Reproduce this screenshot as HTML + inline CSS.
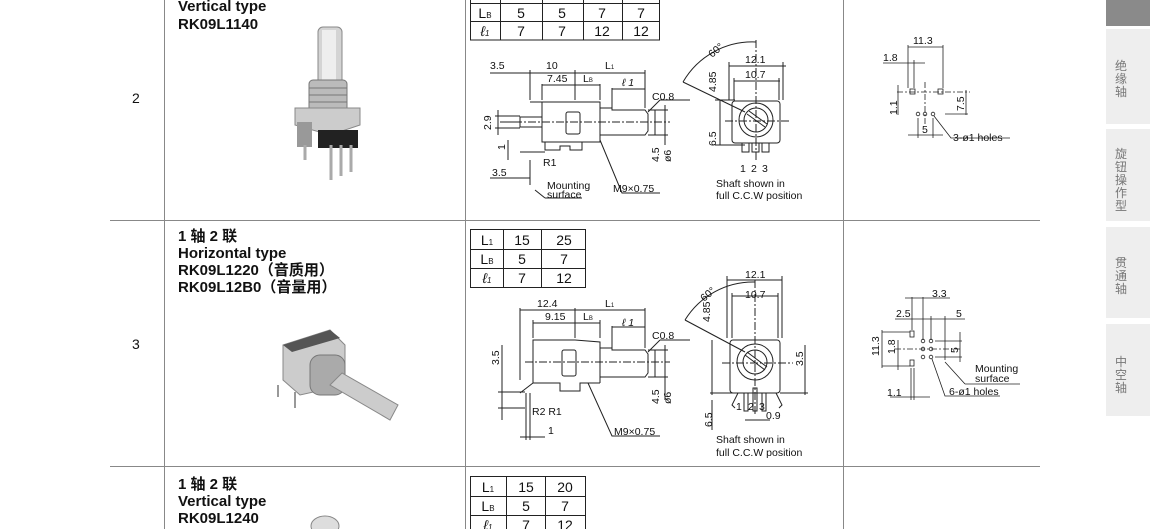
<!DOCTYPE html>
<html><head><meta charset="utf-8"><style>
html,body{margin:0;padding:0;background:#fff;}
body{width:1150px;height:529px;overflow:hidden;position:relative;font-family:"Liberation Sans","Noto Sans CJK SC",sans-serif;}
svg{position:absolute;left:0;top:0;}
.b{font-weight:bold;font-size:15px;fill:#111;}
.d{font-size:10.5px;fill:#111;}
.t{font-size:14px;fill:#111;}
.s{font-size:12px;fill:#777;}
</style></head><body>
<svg width="1150" height="529" viewBox="0 0 1150 529" font-family="Liberation Sans, Noto Sans CJK SC, sans-serif">
<!-- sidebar -->
<rect x="1106" y="0" width="44" height="26" fill="#8a8a8a"/>
<rect x="1106" y="29" width="44" height="95" fill="#eeeeee"/>
<rect x="1106" y="129" width="44" height="92" fill="#eeeeee"/>
<rect x="1106" y="227" width="44" height="91" fill="#eeeeee"/>
<rect x="1106" y="324" width="44" height="92" fill="#eeeeee"/>
<g class="s" text-anchor="middle">
<text x="1121" y="70">绝</text><text x="1121" y="83">缘</text><text x="1121" y="96">轴</text>
<text x="1121" y="158">旋</text><text x="1121" y="171">钮</text><text x="1121" y="184">操</text><text x="1121" y="197">作</text><text x="1121" y="210">型</text>
<text x="1121" y="267">贯</text><text x="1121" y="280">通</text><text x="1121" y="293">轴</text>
<text x="1121" y="366">中</text><text x="1121" y="379">空</text><text x="1121" y="392">轴</text>
</g>
<!-- grid -->
<g stroke="#888" stroke-width="1">
<line x1="164.5" y1="0" x2="164.5" y2="529"/>
<line x1="465.5" y1="0" x2="465.5" y2="529"/>
<line x1="843.5" y1="0" x2="843.5" y2="529"/>
<line x1="110" y1="220.5" x2="1040" y2="220.5"/>
<line x1="110" y1="466.5" x2="1040" y2="466.5"/>
</g>
<text class="t" x="132" y="103">2</text>
<text class="t" x="132" y="349">3</text>
<!-- left texts -->
<text class="b" x="178" y="11">Vertical type</text>
<text class="b" x="178" y="29">RK09L1140</text>
<text class="b" x="178" y="241">1 轴 2 联</text>
<text class="b" x="178" y="258">Horizontal type</text>
<text class="b" x="178" y="275">RK09L1220（音质用）</text>
<text class="b" x="178" y="292">RK09L12B0（音量用）</text>
<text class="b" x="178" y="489">1 轴 2 联</text>
<text class="b" x="178" y="506">Vertical type</text>
<text class="b" x="178" y="523">RK09L1240</text>
<!-- photos -->
<g>
<rect x="318" y="27" width="24" height="58" rx="5" fill="#d4d4d4" stroke="#888"/>
<rect x="322" y="30" width="14" height="50" fill="#eee"/>
<rect x="309" y="80" width="38" height="35" rx="4" fill="#bbb" stroke="#777"/>
<g stroke="#777"><line x1="309" y1="88" x2="347" y2="88"/><line x1="309" y1="95" x2="347" y2="95"/><line x1="309" y1="102" x2="347" y2="102"/><line x1="309" y1="109" x2="347" y2="109"/></g>
<polygon points="295,108 360,108 360,125 330,135 295,125" fill="#ccc" stroke="#888"/>
<rect x="297" y="122" width="15" height="25" fill="#999"/>
<rect x="318" y="130" width="40" height="18" fill="#222"/>
<g stroke="#aaa" stroke-width="3"><line x1="331" y1="145" x2="331" y2="180"/><line x1="341" y1="145" x2="341" y2="176"/><line x1="351" y1="145" x2="351" y2="172"/><line x1="305" y1="145" x2="305" y2="160"/></g>
</g>
<g>
<polygon points="283,345 330,330 345,345 345,385 300,395 283,380" fill="#ccc" stroke="#888"/>
<polygon points="283,345 330,330 340,338 292,352" fill="#555"/>
<rect x="310" y="355" width="35" height="40" rx="10" fill="#aaa" stroke="#777"/>
<polygon points="330,385 342,373 398,405 390,420" fill="#ccc" stroke="#888"/>
<g stroke="#999" stroke-width="2"><line x1="278" y1="385" x2="278" y2="397"/><line x1="295" y1="392" x2="295" y2="408"/></g>
</g>
<ellipse cx="325" cy="526" rx="14" ry="10" fill="#ddd" stroke="#888"/>
<!-- tables -->
<g stroke="#222" stroke-width="1" fill="none">
<rect x="470.5" y="-2" width="189" height="42"/>
<line x1="470" y1="3.5" x2="660" y2="3.5"/><line x1="470" y1="21.5" x2="660" y2="21.5"/>
<line x1="500.5" y1="-2" x2="500.5" y2="40"/><line x1="542.5" y1="-2" x2="542.5" y2="40"/><line x1="583.5" y1="-2" x2="583.5" y2="40"/><line x1="622.5" y1="-2" x2="622.5" y2="40"/>
<rect x="470.5" y="229.5" width="115" height="58"/>
<line x1="470" y1="249.5" x2="586" y2="249.5"/><line x1="470" y1="268.5" x2="586" y2="268.5"/>
<line x1="503.5" y1="229" x2="503.5" y2="288"/><line x1="541.5" y1="229" x2="541.5" y2="288"/>
<rect x="470.5" y="476.5" width="115" height="60"/>
<line x1="470" y1="496.5" x2="586" y2="496.5"/><line x1="470" y1="515.5" x2="586" y2="515.5"/>
<line x1="506.5" y1="476" x2="506.5" y2="529"/><line x1="545.5" y1="476" x2="545.5" y2="529"/>
</g>
<g class="t" text-anchor="middle">
<text x="485" y="18">L<tspan font-size="8">B</tspan></text><text x="521" y="18">5</text><text x="562" y="18">5</text><text x="602" y="18">7</text><text x="641" y="18">7</text>
<text x="485" y="36" font-style="italic">ℓ<tspan font-size="8">1</tspan></text><text x="521" y="36">7</text><text x="562" y="36">7</text><text x="602" y="36">12</text><text x="641" y="36">12</text>
<text x="487" y="245">L<tspan font-size="8">1</tspan></text><text x="522" y="245">15</text><text x="564" y="245">25</text>
<text x="487" y="264">L<tspan font-size="8">B</tspan></text><text x="522" y="264">5</text><text x="564" y="264">7</text>
<text x="487" y="283" font-style="italic">ℓ<tspan font-size="8">1</tspan></text><text x="522" y="283">7</text><text x="564" y="283">12</text>
<text x="488" y="492">L<tspan font-size="8">1</tspan></text><text x="526" y="492">15</text><text x="565" y="492">20</text>
<text x="488" y="511">L<tspan font-size="8">B</tspan></text><text x="526" y="511">5</text><text x="565" y="511">7</text>
<text x="488" y="530" font-style="italic">ℓ<tspan font-size="8">1</tspan></text><text x="526" y="530">7</text><text x="565" y="530">12</text>
</g>
<!-- ROW 2 side view -->
<g stroke="#222" stroke-width="1" fill="none">
<rect x="542" y="102" width="58" height="40"/>
<line x1="530" y1="102" x2="542" y2="102"/>
<rect x="566" y="112" width="14" height="22" rx="2"/>
<polyline points="600,108 612,108 612,110 645,110 648,114 648,131 645,135 600,135"/>
<rect x="520" y="117" width="22" height="10"/>
<line x1="505" y1="122" x2="520" y2="122"/>
<polyline points="545,142 545,150 560,150 560,146 570,146 570,150 582,150 582,142"/>
<line x1="520" y1="152" x2="545" y2="152"/>
<line x1="530" y1="70" x2="530" y2="100"/><line x1="542" y1="84" x2="542" y2="100"/>
<line x1="575" y1="70" x2="575" y2="100"/><line x1="600" y1="84" x2="600" y2="100"/><line x1="645" y1="70" x2="645" y2="108"/>
<line x1="612" y1="88" x2="612" y2="108"/>
<line x1="490" y1="73" x2="645" y2="73"/><line x1="542" y1="85" x2="600" y2="85"/><line x1="612" y1="89" x2="645" y2="89"/>
<line x1="498" y1="110" x2="498" y2="135"/><line x1="495" y1="116" x2="520" y2="116"/><line x1="495" y1="128" x2="520" y2="128"/>
<line x1="508" y1="140" x2="508" y2="160"/>
<line x1="490" y1="178" x2="530" y2="178"/><line x1="530" y1="160" x2="530" y2="185"/>
<line x1="655" y1="110" x2="655" y2="135"/><line x1="665" y1="105" x2="665" y2="145"/>
<line x1="648" y1="110" x2="668" y2="110"/><line x1="648" y1="135" x2="668" y2="135"/>
<polyline points="600,140 622,193 660,193"/>
<line x1="535" y1="190" x2="545" y2="198"/><line x1="545" y1="198" x2="582" y2="198"/>
<line x1="648" y1="112" x2="660" y2="100"/><line x1="660" y1="100" x2="690" y2="100"/>
</g>
<line x1="500" y1="122" x2="670" y2="122" stroke="#222" stroke-dasharray="8,2,2,2"/>
<g class="d">
<text x="490" y="69">3.5</text><text x="546" y="69">10</text><text x="605" y="69">L<tspan font-size="6">1</tspan></text>
<text x="547" y="82">7.45</text><text x="583" y="82">L<tspan font-size="6">B</tspan></text><text x="622" y="86" font-style="italic">ℓ 1</text>
<text x="652" y="100">C0.8</text><text x="543" y="166">R1</text><text x="492" y="176">3.5</text>
<text x="547" y="189">Mounting</text><text x="547" y="198">surface</text><text x="613" y="192">M9×0.75</text>
<text transform="translate(491,130) rotate(-90)">2.9</text><text transform="translate(505,150) rotate(-90)">1</text>
<text transform="translate(659,162) rotate(-90)">4.5</text><text transform="translate(671,162) rotate(-90)">ø6</text>
</g>
<!-- ROW 2 front view -->
<g stroke="#222" stroke-width="1" fill="none">
<rect x="732" y="101" width="48" height="42" rx="3"/>
<circle cx="756" cy="120" r="17"/><circle cx="756" cy="120" r="12"/>
<line x1="747" y1="114" x2="765" y2="127"/><line x1="749" y1="111" x2="767" y2="124"/>
<rect x="742" y="143" width="7" height="9"/><rect x="752" y="143" width="7" height="9"/><rect x="762" y="143" width="7" height="9"/>
<line x1="729" y1="66" x2="786" y2="66"/><line x1="734" y1="81" x2="780" y2="81"/>
<line x1="729" y1="62" x2="729" y2="100"/><line x1="783" y1="62" x2="783" y2="100"/>
<line x1="734" y1="78" x2="734" y2="100"/><line x1="779" y1="78" x2="779" y2="100"/>
<line x1="720" y1="100" x2="720" y2="145"/><line x1="715" y1="100" x2="735" y2="100"/><line x1="715" y1="145" x2="745" y2="145"/>
<path d="M683,82 A80,80 0 0 1 756,42"/><line x1="683" y1="82" x2="745" y2="112"/>
</g>
<line x1="725" y1="121" x2="790" y2="121" stroke="#222" stroke-dasharray="8,2,2,2"/>
<line x1="756" y1="40" x2="756" y2="160" stroke="#222" stroke-dasharray="8,2,2,2"/>
<g class="d">
<text x="745" y="63">12.1</text><text x="745" y="78">10.7</text>
<text transform="translate(712,58) rotate(-40)">60°</text>
<text transform="translate(716,92) rotate(-90)">4.85</text><text transform="translate(716,146) rotate(-90)">6.5</text>
<text x="740" y="172">1</text><text x="751" y="172">2</text><text x="762" y="172">3</text>
<text x="716" y="187">Shaft shown in</text><text x="716" y="199">full C.C.W position</text>
</g>
<!-- ROW 2 footprint -->
<g stroke="#222" stroke-width="0.8" fill="none">
<line x1="908" y1="45" x2="908" y2="88"/><line x1="943" y1="45" x2="943" y2="88"/><line x1="908" y1="47" x2="943" y2="47"/>
<line x1="883" y1="63" x2="925" y2="63"/><line x1="914" y1="60" x2="914" y2="88"/>
<rect x="910" y="89" width="5" height="5"/><rect x="938" y="89" width="5" height="5"/>
<line x1="897" y1="92" x2="970" y2="92" stroke-dasharray="6,2,2,2"/>
<line x1="925" y1="82" x2="925" y2="125" stroke-dasharray="6,2,2,2"/>
<circle cx="918" cy="114" r="1.8"/><circle cx="925" cy="114" r="1.8"/><circle cx="933" cy="114" r="1.8"/>
<line x1="898" y1="85" x2="898" y2="115"/>
<line x1="966" y1="90" x2="966" y2="115"/><line x1="945" y1="114" x2="968" y2="114"/>
<line x1="918" y1="118" x2="918" y2="138"/><line x1="933" y1="118" x2="933" y2="138"/><line x1="908" y1="135" x2="943" y2="135"/>
<polyline points="934,116 951,138 1010,138"/>
</g>
<g class="d">
<text x="913" y="44">11.3</text><text x="883" y="61">1.8</text>
<text transform="translate(897,115) rotate(-90)">1.1</text><text transform="translate(964,111) rotate(-90)">7.5</text>
<text x="922" y="133">5</text><text x="953" y="141">3-ø1 holes</text>
</g>
<!-- ROW 3 side view -->
<g stroke="#222" stroke-width="1" fill="none">
<polyline points="533,383 533,340 575,340 600,342 600,383"/>
<rect x="562" y="350" width="14" height="26" rx="2"/>
<polyline points="600,348 612,348 612,350 645,350 648,354 648,373 645,377 600,377"/>
<polyline points="520,393 533,383 560,383 560,391 580,391 580,383 600,383"/>
<line x1="526" y1="393" x2="526" y2="440"/><line x1="530" y1="393" x2="530" y2="440"/>
<line x1="520" y1="308" x2="520" y2="380"/><line x1="575" y1="308" x2="575" y2="338"/><line x1="645" y1="308" x2="645" y2="348"/>
<line x1="533" y1="320" x2="533" y2="338"/><line x1="600" y1="320" x2="600" y2="338"/><line x1="612" y1="326" x2="612" y2="348"/>
<line x1="520" y1="310" x2="645" y2="310"/><line x1="533" y1="323" x2="600" y2="323"/><line x1="612" y1="327" x2="645" y2="327"/>
<line x1="502" y1="345" x2="502" y2="420"/>
<line x1="498" y1="392" x2="525" y2="392"/><line x1="498" y1="408" x2="525" y2="408"/>
<line x1="520" y1="437" x2="545" y2="437"/>
<line x1="655" y1="350" x2="655" y2="377"/><line x1="665" y1="345" x2="665" y2="400"/>
<line x1="648" y1="350" x2="668" y2="350"/><line x1="648" y1="377" x2="668" y2="377"/>
<polyline points="588,383 612,436 660,436"/>
<line x1="648" y1="352" x2="660" y2="340"/><line x1="660" y1="340" x2="690" y2="340"/>
</g>
<line x1="525" y1="362" x2="670" y2="362" stroke="#222" stroke-dasharray="8,2,2,2"/>
<g class="d">
<text x="537" y="307">12.4</text><text x="605" y="307">L<tspan font-size="6">1</tspan></text>
<text x="545" y="320">9.15</text><text x="583" y="320">L<tspan font-size="6">B</tspan></text><text x="622" y="326" font-style="italic">ℓ 1</text>
<text x="652" y="339">C0.8</text><text x="532" y="415">R2 R1</text><text x="548" y="434">1</text>
<text x="614" y="435">M9×0.75</text>
<text transform="translate(499,365) rotate(-90)">3.5</text>
<text transform="translate(659,404) rotate(-90)">4.5</text><text transform="translate(671,404) rotate(-90)">ø6</text>
</g>
<!-- ROW 3 front view -->
<g stroke="#222" stroke-width="1" fill="none">
<rect x="730" y="340" width="50" height="53" rx="3"/>
<circle cx="755" cy="362" r="18"/><circle cx="755" cy="362" r="12"/>
<line x1="745" y1="355" x2="765" y2="370"/><line x1="747" y1="352" x2="767" y2="367"/>
<polyline points="738,393 732,405 735,408"/><polyline points="776,393 782,405 779,408"/>
<rect x="744" y="393" width="4" height="18"/><rect x="753" y="388" width="4" height="23"/><rect x="762" y="393" width="4" height="18"/>
<line x1="727" y1="280" x2="782" y2="280"/><line x1="732" y1="296" x2="778" y2="296"/>
<line x1="727" y1="276" x2="727" y2="338"/><line x1="782" y1="276" x2="782" y2="338"/>
<line x1="732" y1="293" x2="732" y2="338"/><line x1="778" y1="293" x2="778" y2="338"/>
<line x1="712" y1="340" x2="712" y2="395"/><line x1="710" y1="393" x2="740" y2="393"/>
<line x1="805" y1="345" x2="805" y2="395"/><line x1="780" y1="393" x2="808" y2="393"/>
<line x1="745" y1="420" x2="770" y2="420"/><line x1="712" y1="400" x2="712" y2="430"/>
<path d="M685,320 A80,80 0 0 1 755,282"/><line x1="685" y1="320" x2="745" y2="352"/>
</g>
<line x1="722" y1="363" x2="793" y2="363" stroke="#222" stroke-dasharray="8,2,2,2"/>
<line x1="755" y1="280" x2="755" y2="415" stroke="#222" stroke-dasharray="8,2,2,2"/>
<g class="d">
<text x="745" y="278">12.1</text><text x="745" y="298">10.7</text>
<text transform="translate(704,302) rotate(-40)">60°</text>
<text transform="translate(710,322) rotate(-90)">4.85</text><text transform="translate(803,366) rotate(-90)">3.5</text>
<text transform="translate(712,427) rotate(-90)">6.5</text>
<text x="736" y="410">1</text><text x="748" y="410">2</text><text x="759" y="410">3</text><text x="766" y="419">0.9</text>
<text x="716" y="443">Shaft shown in</text><text x="716" y="456">full C.C.W position</text>
</g>
<!-- ROW 3 footprint -->
<g stroke="#222" stroke-width="0.8" fill="none">
<line x1="912" y1="297" x2="912" y2="330"/><line x1="923" y1="297" x2="923" y2="340"/><line x1="905" y1="298" x2="950" y2="298"/>
<line x1="895" y1="319" x2="965" y2="319"/><line x1="931" y1="316" x2="931" y2="340"/><line x1="945" y1="316" x2="945" y2="360"/>
<rect x="910" y="331" width="4" height="6"/><rect x="910" y="360" width="4" height="6"/>
<circle cx="923" cy="341" r="1.8"/><circle cx="931" cy="341" r="1.8"/>
<circle cx="923" cy="349" r="1.8"/><circle cx="931" cy="349" r="1.8"/>
<circle cx="923" cy="357" r="1.8"/><circle cx="931" cy="357" r="1.8"/>
<line x1="895" y1="349" x2="960" y2="349" stroke-dasharray="6,2,2,2"/>
<line x1="882" y1="332" x2="910" y2="332"/><line x1="882" y1="366" x2="910" y2="366"/><line x1="882" y1="330" x2="882" y2="368"/>
<line x1="898" y1="340" x2="898" y2="370"/>
<line x1="960" y1="332" x2="960" y2="362"/><line x1="935" y1="341" x2="962" y2="341"/><line x1="935" y1="357" x2="962" y2="357"/>
<line x1="911" y1="368" x2="911" y2="400"/><line x1="914" y1="368" x2="914" y2="400"/><line x1="890" y1="397" x2="930" y2="397"/>
<line x1="945" y1="362" x2="965" y2="384"/><line x1="965" y1="384" x2="1020" y2="384"/>
<polyline points="932,359 945,396 1000,396"/>
</g>
<g class="d">
<text x="932" y="297">3.3</text><text x="896" y="317">2.5</text><text x="956" y="317">5</text>
<text transform="translate(879,356) rotate(-90)">11.3</text><text transform="translate(895,354) rotate(-90)">1.8</text>
<text transform="translate(958,353) rotate(-90)">5</text>
<text x="975" y="372">Mounting</text><text x="975" y="382">surface</text>
<text x="887" y="396">1.1</text><text x="949" y="395">6-ø1 holes</text>
</g>
</svg>
</body></html>
